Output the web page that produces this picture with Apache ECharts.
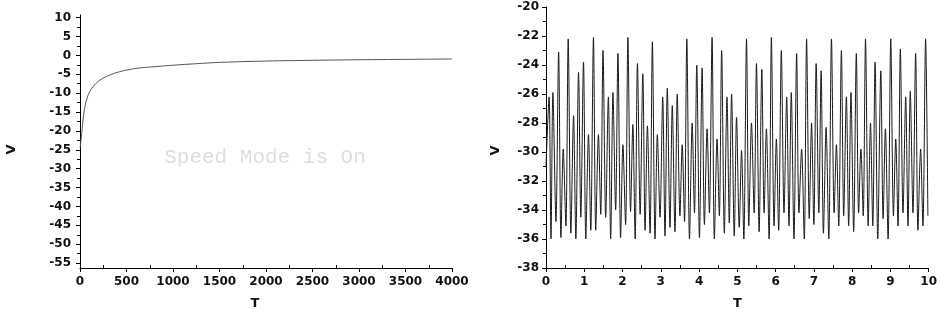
<!DOCTYPE html>
<html>
<head>
<meta charset="utf-8">
<script src="https://cdn.jsdelivr.net/npm/echarts@6/dist/echarts.min.js"></script>
<style>html,body{margin:0;padding:0;background:#fff;}#c{width:940px;height:315px;}</style>
</head>
<body>
<div id="c"></div>
<script>
// ---- Left panel: V vs T (0..4000) ----
const leftT = [0, 5, 10, 20, 35, 50, 70, 100, 140, 200, 250, 320, 400, 500, 650, 850, 1000, 1250, 1500, 2000, 2500, 3000, 3500, 4000];
const leftV = [-24.5, -23.8, -22.6, -20.4, -16.6, -14.0, -11.8, -9.8, -8.3, -6.8, -6.0, -5.2, -4.5, -3.9, -3.3, -2.9, -2.6, -2.2, -1.85, -1.5, -1.3, -1.15, -1.05, -0.95];
const leftYTicks = [10, 5, 0, -5, -10, -15, -20, -25, -30, -35, -40, -45, -50, -55];
const leftYMinor = [7.5, 2.5, -2.5, -7.5, -12.5, -17.5, -22.5, -27.5, -32.5, -37.5, -42.5, -47.5, -52.5];
const leftXMinor = [250, 750, 1250, 1750, 2250, 2750, 3250, 3750];

// ---- Right panel: V vs T (0..10), successive extrema [T, V] ----
const rightXMinor = [0.5, 1.5, 2.5, 3.5, 4.5, 5.5, 6.5, 7.5, 8.5, 9.5];
const rightPeaks = [
 [0.08,-26.2],[0.18,-25.9],[0.33,-23.1],[0.45,-29.8],[0.58,-22.2],[0.72,-27.5],[0.85,-24.5],[0.98,-23.8],[1.11,-28.8],[1.24,-22.1],
 [1.37,-28.8],[1.49,-23.0],[1.63,-26.2],[1.75,-25.9],[1.88,-23.2],[2.01,-29.5],[2.14,-22.1],[2.27,-28.1],[2.39,-23.9],[2.53,-24.6],
 [2.65,-28.2],[2.78,-22.4],[2.91,-28.8],[3.05,-26.2],[3.17,-25.6],[3.30,-26.8],[3.43,-26.0],[3.56,-29.5],[3.68,-22.2],[3.82,-28.0],
 [3.94,-24.0],[4.08,-24.2],[4.21,-28.4],[4.34,-22.1],[4.47,-29.1],[4.59,-23.0],[4.73,-26.2],[4.85,-26.0],[4.98,-27.6],[5.11,-29.9],
 [5.24,-22.2],[5.37,-28.0],[5.50,-23.9],[5.64,-24.3],[5.76,-28.4],[5.89,-22.1],[6.02,-29.1],[6.15,-23.0],[6.29,-26.2],[6.41,-25.9],
 [6.55,-23.2],[6.68,-29.8],[6.81,-22.2],[6.94,-28.0],[7.06,-23.9],[7.19,-24.4],[7.32,-28.3],[7.46,-22.2],[7.59,-29.5],[7.72,-23.0],
 [7.85,-26.2],[7.97,-25.9],[8.11,-23.2],[8.23,-29.8],[8.35,-22.2],[8.48,-28.0],[8.60,-23.8],[8.75,-24.4],[8.87,-28.4],[9.01,-22.2],
 [9.14,-29.1],[9.26,-22.9],[9.40,-26.2],[9.52,-25.8],[9.66,-23.2],[9.79,-29.8],[9.92,-22.2]
];
const rightTroughs = [
 [0.13,-36.0],[0.26,-34.8],[0.39,-35.9],[0.52,-35.1],[0.65,-35.6],[0.78,-36.0],[0.91,-34.5],[1.04,-36.0],[1.17,-35.4],[1.30,-35.4],
 [1.43,-34.3],[1.56,-34.5],[1.69,-36.0],[1.82,-34.0],[1.95,-35.9],[2.08,-35.0],[2.21,-34.1],[2.33,-36.0],[2.46,-34.3],[2.59,-35.4],
 [2.72,-35.6],[2.85,-36.0],[2.98,-34.5],[3.11,-35.8],[3.24,-35.2],[3.37,-35.5],[3.50,-34.4],[3.62,-34.8],[3.75,-36.0],[3.88,-34.2],
 [4.01,-35.9],[4.14,-35.0],[4.27,-34.2],[4.40,-36.0],[4.53,-34.4],[4.66,-35.6],[4.79,-34.9],[4.92,-35.8],[5.05,-35.2],[5.17,-36.0],
 [5.30,-35.1],[5.44,-34.2],[5.57,-35.5],[5.70,-34.2],[5.83,-36.0],[5.96,-35.1],[6.08,-35.4],[6.22,-34.2],[6.35,-35.1],[6.48,-36.0],
 [6.61,-34.2],[6.75,-36.0],[6.88,-34.6],[7.00,-35.0],[7.13,-34.2],[7.25,-35.6],[7.39,-36.0],[7.53,-34.2],[7.65,-35.1],[7.78,-34.4],
 [7.91,-35.1],[8.04,-35.5],[8.17,-34.2],[8.29,-34.4],[8.42,-35.1],[8.54,-35.1],[8.67,-36.0],[8.81,-34.6],[8.94,-36.0],[9.08,-34.4],
 [9.20,-35.1],[9.33,-34.2],[9.46,-35.1],[9.59,-34.2],[9.72,-35.4],[9.85,-35.1],[9.98,-34.4]
];
const rightStart = [0, -31.0];

const labelFont = {fontFamily: 'DejaVu Sans', fontSize: 12, fontWeight: 'bold', color: '#111'};
const nameFont = {fontFamily: 'DejaVu Sans', fontSize: 13, fontWeight: 'bold', color: '#111'};
const axisLine = {show: true, onZero: false, lineStyle: {color: '#000', width: 1}};
const plain = v => String(v);

const rightData = [rightStart];
for (let i = 0; i < rightPeaks.length; i++) {
  rightData.push(rightPeaks[i]);
  if (i < rightTroughs.length) rightData.push(rightTroughs[i]);
}
const leftData = leftT.map((t, i) => [t, leftV[i]]);

const minorOverlayX = (gridIndex, min, max, values) => ({
  gridIndex, type: 'value', min, max, position: 'bottom',
  axisLine: {show: false, onZero: false}, axisLabel: {show: false}, splitLine: {show: false},
  axisTick: {show: true, inside: true, length: 3, customValues: values, lineStyle: {color: '#000'}}
});

const chart = echarts.init(document.getElementById('c'), null, {renderer: 'canvas'});
chart.setOption({
  animation: false,
  backgroundColor: '#fff',
  grid: [
    {left: 80, right: 488, top: 15, bottom: 38, containLabel: false},
    {left: 546, right: 8, top: 7, bottom: 38, containLabel: false}
  ],
  xAxis: [
    {gridIndex: 0, type: 'value', min: 0, max: 4000, interval: 500,
     name: 'T', nameLocation: 'middle', nameGap: 29, nameTextStyle: Object.assign({padding: [0, 22, 0, 0]}, nameFont),
     axisLine: axisLine, axisTick: {show: true, length: 4, lineStyle: {color: '#000'}},
     axisLabel: Object.assign({margin: 8, formatter: plain}, labelFont), splitLine: {show: false}},
    {gridIndex: 1, type: 'value', min: 0, max: 10, interval: 1,
     name: 'T', nameLocation: 'middle', nameGap: 29, nameTextStyle: nameFont,
     axisLine: axisLine, axisTick: {show: true, length: 4, lineStyle: {color: '#000'}},
     axisLabel: Object.assign({margin: 8, formatter: plain}, labelFont), splitLine: {show: false}},
    minorOverlayX(0, 0, 4000, leftXMinor),
    minorOverlayX(1, 0, 10, rightXMinor)
  ],
  yAxis: [
    {gridIndex: 0, type: 'value', min: -56.3, max: 10.7, position: 'left',
     name: 'V', nameLocation: 'middle', nameGap: 62, nameTextStyle: Object.assign({padding: [0, 16, 0, 0]}, nameFont),
     axisLine: axisLine,
     axisTick: {show: true, length: 4, customValues: leftYTicks, lineStyle: {color: '#000'}},
     axisLabel: Object.assign({margin: 9, customValues: leftYTicks, formatter: plain}, labelFont), splitLine: {show: false}},
    {gridIndex: 0, type: 'value', min: -56.3, max: 10.7, position: 'left',
     axisLine: {show: false, onZero: false},
     axisTick: {show: true, length: 3, customValues: leftYMinor, lineStyle: {color: '#000'}},
     axisLabel: {show: false}, splitLine: {show: false}},
    {gridIndex: 1, type: 'value', min: -38, max: -20, interval: 2, position: 'left',
     name: 'V', nameLocation: 'middle', nameGap: 44, nameTextStyle: Object.assign({padding: [0, 26, 0, 0]}, nameFont),
     axisLine: axisLine, axisTick: {show: true, length: 4, lineStyle: {color: '#000'}},
     minorTick: {show: true, splitNumber: 2, length: 3, lineStyle: {color: '#000'}},
     axisLabel: Object.assign({margin: 7, formatter: plain}, labelFont), splitLine: {show: false}}
  ],
  graphic: [
    {type: 'text', x: 265, y: 157, z: 100,
     style: {text: 'Speed Mode is On', fontFamily: 'Liberation Mono', fontSize: 21, fill: '#dedede', align: 'center', verticalAlign: 'middle'}}
  ],
  series: [
    {type: 'line', xAxisIndex: 0, yAxisIndex: 0, data: leftData, smooth: 0.4, showSymbol: false,
     lineStyle: {color: '#555', width: 1}},
    {type: 'line', xAxisIndex: 1, yAxisIndex: 2, data: rightData, smooth: 0.3, showSymbol: false,
     lineStyle: {color: '#1a1a1a', width: 1}}
  ]
});
</script>
</body>
</html>
